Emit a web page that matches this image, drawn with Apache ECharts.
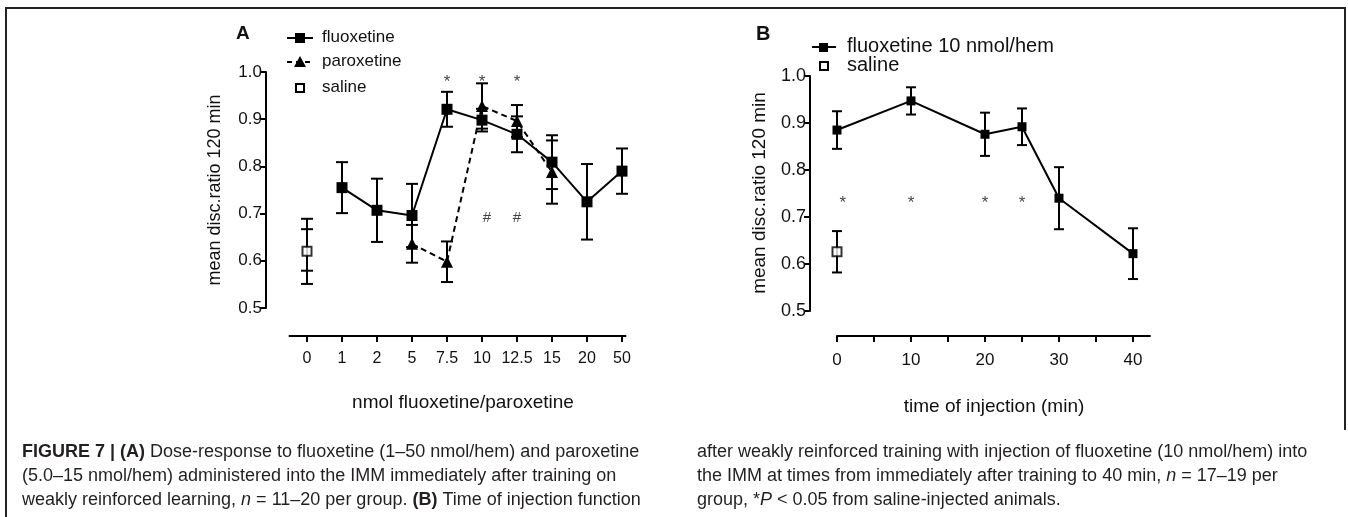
<!DOCTYPE html>
<html>
<head>
<meta charset="utf-8">
<script src="https://cdn.jsdelivr.net/npm/echarts@6/dist/echarts.min.js"></script>
<style>
  html, body { margin: 0; padding: 0; background: #fff; }
  #chart { width: 1348px; height: 517px; }
</style>
</head>
<body>
<div id="chart"></div>
<script>
// panel A: dose response
var doseLabels = ['0', '1', '2', '5', '7.5', '10', '12.5', '15', '20', '50'];
var fluoxA    = [null, 0.755, 0.707, 0.696, 0.921, 0.898, 0.868, 0.809, 0.725, 0.790];
var fluoxAErr = [null, 0.054, 0.067, 0.067, 0.037, 0.024, 0.038, 0.057, 0.080, 0.048];
var paroxA    = [null, null, null, 0.636, 0.598, 0.928, 0.896, 0.788, null, null];
var paroxAErr = [null, null, null, 0.040, 0.043, 0.048, 0.034, 0.067, null, null];
var salineA    = [0.620, 0.623];
var salineAErr = [0.069, 0.044];
var starsA = [4, 5, 6];
var hashA = [5.14, 6];

// panel B: time of injection
var timesB = [0, 10, 20, 25, 30, 40];
var fluoxB    = [0.885, 0.947, 0.876, 0.892, 0.740, 0.622];
var fluoxBErr = [0.040, 0.029, 0.046, 0.039, 0.066, 0.054];
var salineB = 0.626, salineBErr = 0.044;
var starsB = [0.8, 10, 20, 25];

var FONT = '"Liberation Sans", Arial, sans-serif';

function pairs(xs, ys) {
  var out = [];
  for (var i = 0; i < ys.length; i++) {
    if (ys[i] != null) out.push([xs[i], ys[i]]);
  }
  return out;
}
function errData(xs, ys, es) {
  var out = [];
  for (var i = 0; i < ys.length; i++) {
    if (ys[i] != null) out.push([xs[i], ys[i], es[i]]);
  }
  return out;
}
// vertical bar with two caps, cap = half width in px
function errBars(cap) {
  return function (params, api) {
    var x = api.value(0), m = api.value(1), e = api.value(2);
    var hi = api.coord([x, m + e]), lo = api.coord([x, m - e]);
    var st = { stroke: '#000', lineWidth: 2 };
    return {
      type: 'group',
      children: [
        { type: 'line', shape: { x1: hi[0], y1: hi[1], x2: lo[0], y2: lo[1] }, style: st },
        { type: 'line', shape: { x1: hi[0] - cap, y1: hi[1], x2: hi[0] + cap, y2: hi[1] }, style: st },
        { type: 'line', shape: { x1: lo[0] - cap, y1: lo[1], x2: lo[0] + cap, y2: lo[1] }, style: st }
      ]
    };
  };
}

var idx = doseLabels.map(function (d, i) { return i; });

var chart = echarts.init(document.getElementById('chart'));

var axisLineSt = { show: true, onZero: false, lineStyle: { color: '#000', width: 2 } };
var tickSt = { show: true, length: 6, lineStyle: { color: '#000', width: 2 } };

var CAP = 18;
var richCap = {
  b: { fontWeight: 'bold', fontFamily: FONT, fontSize: CAP, fill: '#231f20' },
  i: { fontStyle: 'italic', fontFamily: FONT, fontSize: CAP, fill: '#231f20' },
  n: { fontFamily: FONT, fontSize: CAP, fill: '#231f20' }
};
function captionLine(x, y, parts) {
  return { type: 'text', x: x, y: y, style: { rich: richCap, text: parts, font: CAP + 'px ' + FONT, fill: '#231f20', textVerticalAlign: 'middle' } };
}

chart.setOption({
  backgroundColor: '#fff',
  animation: false,
  grid: [
    { left: 289.5, top: 72, width: 336, height: 236 },
    { left: 837, top: 76, width: 313, height: 235 }
  ],
  xAxis: [
    {
      gridIndex: 0, type: 'value', min: -0.5, max: 9.1, offset: 28,
      splitLine: { show: false },
      axisLine: axisLineSt,
      axisTick: { show: true, length: 6, lineStyle: { color: '#000', width: 2 }, customValues: idx },
      axisLabel: {
        customValues: idx, margin: 15, color: '#111', fontFamily: FONT, fontSize: 16,
        formatter: function (v) { return doseLabels[Math.round(v)]; }
      }
    },
    {
      gridIndex: 1, type: 'value', min: 0, max: 42.3, offset: 25,
      splitLine: { show: false },
      axisLine: axisLineSt,
      axisTick: { show: true, length: 6, lineStyle: { color: '#000', width: 2 }, customValues: [0, 5, 10, 15, 20, 25, 30, 35, 40] },
      axisLabel: { customValues: [0, 10, 20, 30, 40], margin: 16, color: '#111', fontFamily: FONT, fontSize: 17 }
    }
  ],
  yAxis: [
    {
      gridIndex: 0, type: 'value', min: 0.5, max: 1.0, interval: 0.1, offset: 23.5,
      splitLine: { show: false }, axisLine: axisLineSt, axisTick: tickSt,
      axisLabel: { color: '#111', fontFamily: FONT, fontSize: 17, margin: 4, formatter: function (v) { return v.toFixed(1); } }
    },
    {
      gridIndex: 1, type: 'value', min: 0.5, max: 1.0, interval: 0.1, offset: 27,
      splitLine: { show: false }, axisLine: axisLineSt, axisTick: tickSt,
      axisLabel: { color: '#111', fontFamily: FONT, fontSize: 18, margin: 4, formatter: function (v) { return v.toFixed(1); } }
    }
  ],
  series: [
    // panel A
    { type: 'custom', xAxisIndex: 0, yAxisIndex: 0, renderItem: errBars(6), data: errData(idx, fluoxA, fluoxAErr), z: 2 },
    { type: 'custom', xAxisIndex: 0, yAxisIndex: 0, renderItem: errBars(6), data: errData(idx, paroxA, paroxAErr), z: 2 },
    { type: 'custom', xAxisIndex: 0, yAxisIndex: 0, renderItem: errBars(6), data: errData([0, 0], salineA, salineAErr), z: 2 },
    {
      name: 'fluoxetine', type: 'line', xAxisIndex: 0, yAxisIndex: 0, data: pairs(idx, fluoxA),
      symbol: 'rect', symbolSize: 11, itemStyle: { color: '#000' }, lineStyle: { color: '#000', width: 2 }, z: 3
    },
    {
      name: 'paroxetine', type: 'line', xAxisIndex: 0, yAxisIndex: 0, data: pairs(idx, paroxA),
      symbol: 'triangle', symbolSize: 12, itemStyle: { color: '#000' }, lineStyle: { color: '#000', width: 2, type: [6, 4] }, z: 4
    },
    {
      name: 'saline', type: 'scatter', xAxisIndex: 0, yAxisIndex: 0, data: pairs([0], [salineA[0]]),
      symbol: 'rect', symbolSize: 9, itemStyle: { color: '#fff', borderColor: '#000', borderWidth: 2 }, z: 4
    },
    {
      type: 'scatter', xAxisIndex: 0, yAxisIndex: 0, symbolSize: 0, silent: true,
      data: starsA.map(function (i) { return [i, 0.978]; }),
      label: { show: true, position: 'inside', formatter: '*', color: '#111', fontFamily: FONT, fontSize: 17 }
    },
    {
      type: 'scatter', xAxisIndex: 0, yAxisIndex: 0, symbolSize: 0, silent: true,
      data: hashA.map(function (i) { return [i, 0.691]; }),
      label: { show: true, position: 'inside', formatter: '#', color: '#111', fontFamily: FONT, fontSize: 15 }
    },
    // panel B
    { type: 'custom', xAxisIndex: 1, yAxisIndex: 1, renderItem: errBars(5), data: errData(timesB, fluoxB, fluoxBErr), z: 2 },
    { type: 'custom', xAxisIndex: 1, yAxisIndex: 1, renderItem: errBars(5), data: [[0, salineB, salineBErr]], z: 2 },
    {
      name: 'fluoxetine 10 nmol/hem', type: 'line', xAxisIndex: 1, yAxisIndex: 1, data: pairs(timesB, fluoxB),
      symbol: 'rect', symbolSize: 9, itemStyle: { color: '#000' }, lineStyle: { color: '#000', width: 2 }, z: 3
    },
    {
      name: 'saline B', type: 'scatter', xAxisIndex: 1, yAxisIndex: 1, data: [[0, salineB]],
      symbol: 'rect', symbolSize: 9, itemStyle: { color: '#fff', borderColor: '#000', borderWidth: 2 }, z: 4
    },
    {
      type: 'scatter', xAxisIndex: 1, yAxisIndex: 1, symbolSize: 0, silent: true,
      data: starsB.map(function (t) { return [t, 0.73]; }),
      label: { show: true, position: 'inside', formatter: '*', color: '#111', fontFamily: FONT, fontSize: 17 }
    }
  ],
  graphic: [
    // frame
    { type: 'polyline', shape: { points: [[6, 517], [6, 8], [1345, 8], [1345, 430]] }, style: { stroke: '#222', lineWidth: 2, fill: null } },
    // panel letters
    { type: 'text', left: 236, top: 24, style: { text: 'A', font: 'bold 19px ' + FONT, fill: '#111' } },
    { type: 'text', left: 756, top: 24, style: { text: 'B', font: 'bold 20px ' + FONT, fill: '#111' } },
    // legend A
    { type: 'line', shape: { x1: 287, y1: 38, x2: 313, y2: 38 }, style: { stroke: '#000', lineWidth: 2 } },
    { type: 'rect', shape: { x: 295, y: 33, width: 10, height: 10 }, style: { fill: '#000' } },
    { type: 'line', shape: { x1: 287, y1: 62, x2: 313, y2: 62 }, style: { stroke: '#000', lineWidth: 2, lineDash: [5, 4] } },
    { type: 'polygon', shape: { points: [[300, 56], [294, 67], [306, 67]] }, style: { fill: '#000' } },
    { type: 'rect', shape: { x: 296, y: 84, width: 8, height: 8 }, style: { fill: '#fff', stroke: '#000', lineWidth: 2 } },
    { type: 'text', left: 322, top: 29, style: { text: 'fluoxetine', font: '17px ' + FONT, fill: '#111' } },
    { type: 'text', left: 322, top: 53, style: { text: 'paroxetine', font: '17px ' + FONT, fill: '#111' } },
    { type: 'text', left: 322, top: 79, style: { text: 'saline', font: '17px ' + FONT, fill: '#111' } },
    // legend B
    { type: 'line', shape: { x1: 812, y1: 47, x2: 836, y2: 47 }, style: { stroke: '#000', lineWidth: 2 } },
    { type: 'rect', shape: { x: 819, y: 43, width: 9, height: 9 }, style: { fill: '#000' } },
    { type: 'rect', shape: { x: 820, y: 62, width: 8, height: 8 }, style: { fill: '#fff', stroke: '#000', lineWidth: 2 } },
    { type: 'text', left: 847, top: 36, style: { text: 'fluoxetine 10 nmol/hem', font: '20px ' + FONT, fill: '#111' } },
    { type: 'text', left: 847, top: 55, style: { text: 'saline', font: '20px ' + FONT, fill: '#111' } },
    // axis titles
    { type: 'text', x: 215, y: 190, rotation: Math.PI / 2, style: { text: 'mean disc.ratio 120 min', font: '18px ' + FONT, fill: '#111', textAlign: 'center', textVerticalAlign: 'middle' } },
    { type: 'text', x: 760, y: 193, rotation: Math.PI / 2, style: { text: 'mean disc.ratio 120 min', font: '19px ' + FONT, fill: '#111', textAlign: 'center', textVerticalAlign: 'middle' } },
    { type: 'text', x: 463, y: 403, style: { text: 'nmol fluoxetine/paroxetine', font: '19px ' + FONT, fill: '#111', textAlign: 'center', textVerticalAlign: 'middle' } },
    { type: 'text', x: 994, y: 407, style: { text: 'time of injection (min)', font: '19px ' + FONT, fill: '#111', textAlign: 'center', textVerticalAlign: 'middle' } },
    // caption, left column
    captionLine(22, 452, '{b|FIGURE 7 | (A)}{n| Dose-response to fluoxetine (1–50 nmol/hem) and paroxetine}'),
    captionLine(22, 476, '{n|(5.0–15 nmol/hem) administered into the IMM immediately after training on}'),
    captionLine(22, 500, '{n|weakly reinforced learning, }{i|n}{n| = 11–20 per group. }{b|(B)}{n| Time of injection function}'),
    // caption, right column
    captionLine(697, 452, '{n|after weakly reinforced training with injection of fluoxetine (10 nmol/hem) into}'),
    captionLine(697, 476, '{n|the IMM at times from immediately after training to 40 min, }{i|n}{n| = 17–19 per}'),
    captionLine(697, 500, '{n|group, *}{i|P}{n| < 0.05 from saline-injected animals.}')
  ]
});
</script>
</body>
</html>
